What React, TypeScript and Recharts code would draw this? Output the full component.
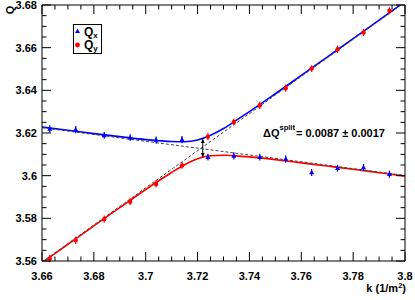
import React from 'react';
import {
  ComposedChart,
  Line,
  Scatter,
  ErrorBar,
  XAxis,
  YAxis,
  ReferenceLine,
  ReferenceDot,
} from 'recharts';

// measured points
const kPoints = [3.663, 3.673, 3.684, 3.694, 3.704, 3.714, 3.724, 3.734, 3.744, 3.754, 3.764, 3.774, 3.784, 3.794];
const qxValues = [3.6219, 3.6216, 3.6189, 3.6178, 3.6167, 3.6169, 3.6087, 3.6093, 3.6087, 3.6078, 3.6015, 3.6035, 3.6038, 3.6007];
const qxErrors = [0.0017, 0.0017, 0.0016, 0.0016, 0.0017, 0.0017, 0.0016, 0.0017, 0.0016, 0.0018, 0.0016, 0.0016, 0.0017, 0.0017];
const qyValues = [3.5611, 3.5697, 3.5796, 3.5878, 3.5961, 3.6048, 3.6183, 3.6252, 3.633, 3.641, 3.6502, 3.6593, 3.6671, 3.6773];
const qyErrors = [0.0017, 0.0017, 0.0017, 0.0016, 0.0017, 0.0016, 0.0017, 0.0016, 0.0017, 0.0017, 0.0016, 0.0017, 0.0017, 0.0016];

// fitted branches
const fitK = [3.66, 3.67, 3.68, 3.69, 3.7, 3.705, 3.71, 3.715, 3.72, 3.725, 3.73, 3.735, 3.74, 3.75, 3.76, 3.77, 3.78, 3.79, 3.8];
const qxFit = [3.6228, 3.6213, 3.6197, 3.6183, 3.6169, 3.6164, 3.616, 3.6159, 3.6167, 3.6189, 3.6221, 3.626, 3.63, 3.6384, 3.647, 3.6556, 3.6642, 3.6729, 3.6816];
const qyFit = [3.5592, 3.5678, 3.5765, 3.585, 3.5935, 3.5976, 3.6015, 3.6051, 3.6079, 3.6093, 3.6096, 3.6093, 3.6088, 3.6075, 3.606, 3.6045, 3.603, 3.6014, 3.5998];

// uncoupled lines
const lineK = [3.66, 3.8];
const flatLine = [3.6225, 3.6001];
const steepLine = [3.5595, 3.6813];

const splitK = 3.722;
const splitTop = 3.6172;
const splitBottom = 3.6088;

const xMajorLabels = ['3.66', '3.68', '3.7', '3.72', '3.74', '3.76', '3.78', '3.8'];
const yMajorLabels = ['3.56', '3.58', '3.6', '3.62', '3.64', '3.66', '3.68'];

const W = 415;
const H = 300;
const PLOT_TOP = 5;
const PLOT_RIGHT = 405;
const FONT = '"Liberation Sans", Arial, sans-serif';

const withMinors = (majors: string[], step: number) => {
  const vals = majors.map(Number);
  const out: number[] = [];
  for (let i = 0; i < vals.length - 1; i++) {
    for (let j = 0; j < 4; j++) out.push(+(vals[i] + j * step).toFixed(4));
  }
  out.push(vals[vals.length - 1]);
  return out;
};

const xTicks = withMinors(xMajorLabels, 0.005);
const yTicks = withMinors(yMajorLabels, 0.005);
const isMajor = (v: number, labels: string[]) => labels.some((l) => Math.abs(Number(l) - v) < 1e-6);
const fmt = (v: number) => String(parseFloat(v.toFixed(2)));

const pointsQx = kPoints.map((k, i) => ({ k, q: qxValues[i], err: qxErrors[i] }));
const pointsQy = kPoints.map((k, i) => ({ k, q: qyValues[i], err: qyErrors[i] }));
const fitQx = fitK.map((k, i) => ({ k, q: qxFit[i] }));
const fitQy = fitK.map((k, i) => ({ k, q: qyFit[i] }));
const flatData = lineK.map((k, i) => ({ k, q: flatLine[i] }));
const steepData = lineK.map((k, i) => ({ k, q: steepLine[i] }));

const XTick = (props: any) => {
  const { x, y, payload } = props;
  const major = isMajor(payload.value, xMajorLabels);
  const len = major ? 9 : 4.5;
  return (
    <g>
      <line x1={x} x2={x} y1={y} y2={y - len} stroke="#000" />
      <line x1={x} x2={x} y1={PLOT_TOP} y2={PLOT_TOP + len} stroke="#000" />
      {major && (
        <text x={x} y={y + 19} textAnchor="middle" fontFamily={FONT} fontWeight="bold" fontSize={11} fill="#000">
          {fmt(payload.value)}
        </text>
      )}
    </g>
  );
};

const YTick = (props: any) => {
  const { x, y, payload } = props;
  const major = isMajor(payload.value, yMajorLabels);
  const len = major ? 9 : 4.5;
  return (
    <g>
      <line x1={x} x2={x + len} y1={y} y2={y} stroke="#000" />
      <line x1={PLOT_RIGHT} x2={PLOT_RIGHT - len} y1={y} y2={y} stroke="#000" />
      {major && (
        <text x={x - 5} y={y + 4} textAnchor="end" fontFamily={FONT} fontWeight="bold" fontSize={11} fill="#000">
          {fmt(payload.value)}
        </text>
      )}
    </g>
  );
};

const Triangle = (p: any) => (
  <polygon points={`${p.cx},${p.cy - 2.8} ${p.cx - 2.5},${p.cy + 1.8} ${p.cx + 2.5},${p.cy + 1.8}`} fill="#0000ff" />
);
const Dot = (p: any) => <circle cx={p.cx} cy={p.cy} r={2.2} fill="#ff0000" />;
const ArrowUp = (p: any) => (
  <polygon points={`${p.cx},${p.cy} ${p.cx - 2},${p.cy + 4} ${p.cx + 2},${p.cy + 4}`} fill="#000" />
);
const ArrowDown = (p: any) => (
  <polygon points={`${p.cx},${p.cy} ${p.cx - 2},${p.cy - 4} ${p.cx + 2},${p.cy - 4}`} fill="#000" />
);

export default function App() {
  return (
    <div style={{ position: 'absolute', left: 0, top: 0, width: W, height: H, background: '#fff' }}>
      <ComposedChart width={W} height={H} margin={{ top: PLOT_TOP, right: W - PLOT_RIGHT, left: 0, bottom: 0 }}>
        <XAxis
          dataKey="k"
          type="number"
          domain={[3.66, 3.8]}
          ticks={xTicks}
          interval={0}
          allowDataOverflow
          height={39}
          tickSize={0}
          tickMargin={0}
          tickLine={false}
          axisLine={{ stroke: '#000' }}
          tick={<XTick />}
        />
        <YAxis
          type="number"
          domain={[3.56, 3.68]}
          ticks={yTicks}
          interval={0}
          allowDataOverflow
          width={42}
          tickSize={0}
          tickMargin={0}
          tickLine={false}
          axisLine={{ stroke: '#000' }}
          tick={<YTick />}
        />
        <ReferenceLine y={3.68} stroke="#000" />
        <ReferenceLine x={3.8} stroke="#000" />

        <Line data={fitQy} dataKey="q" type="monotone" stroke="#ff0000" strokeWidth={1.6} dot={false} isAnimationActive={false} />
        <Line data={fitQx} dataKey="q" type="monotone" stroke="#0000ff" strokeWidth={1.6} dot={false} isAnimationActive={false} />
        <Line data={flatData} dataKey="q" type="linear" stroke="#444" strokeWidth={1} strokeDasharray="3 2" dot={false} isAnimationActive={false} />
        <Line data={steepData} dataKey="q" type="linear" stroke="#444" strokeWidth={1} strokeDasharray="3 2" dot={false} isAnimationActive={false} />

        <ReferenceLine segment={[{ x: splitK, y: splitTop }, { x: splitK, y: splitBottom }]} stroke="#000" strokeWidth={1} />
        <ReferenceDot x={splitK} y={splitTop} shape={<ArrowUp />} />
        <ReferenceDot x={splitK} y={splitBottom} shape={<ArrowDown />} />

        <Scatter data={pointsQx} dataKey="q" shape={<Triangle />} isAnimationActive={false}>
          <ErrorBar dataKey="err" direction="y" width={0} stroke="#0000ff" strokeWidth={1.2} isAnimationActive={false} />
        </Scatter>
        <Scatter data={pointsQy} dataKey="q" shape={<Dot />} isAnimationActive={false}>
          <ErrorBar dataKey="err" direction="y" width={0} stroke="#ff0000" strokeWidth={1.2} isAnimationActive={false} />
        </Scatter>
      </ComposedChart>

      <svg width={W} height={H} style={{ position: 'absolute', left: 0, top: 0, pointerEvents: 'none' }}>
        <g fontFamily={FONT} fontWeight="bold" fill="#000">
          <text transform="translate(14,10) rotate(-90)" textAnchor="middle" fontSize={11}>Q</text>
          <text x={406} y={292} textAnchor="end" fontSize={11}>
            k (1/m<tspan dy={-4} fontSize={7.5}>2</tspan><tspan dy={4}>)</tspan>
          </text>

          <rect x={73.5} y={24.5} width={28} height={29} fill="#fff" stroke="#000" strokeWidth={1} />
          <polygon points="77.5,28.5 75,33 80,33" fill="#0000ff" />
          <circle cx={77.5} cy={45} r={2.4} fill="#ff0000" />
          <text x={84} y={35.5} fontSize={12}>
            Q<tspan dy={2} fontSize={8}>x</tspan>
          </text>
          <text x={84} y={49} fontSize={12}>
            Q<tspan dy={2} fontSize={8}>y</tspan>
          </text>

          <text x={263} y={136.5} fontSize={11}>
            ΔQ<tspan dy={-7} fontSize={7.5}>split</tspan>
            <tspan x={296} dy={7}>= 0.0087 ± 0.0017</tspan>
          </text>
        </g>
      </svg>
    </div>
  );
}
